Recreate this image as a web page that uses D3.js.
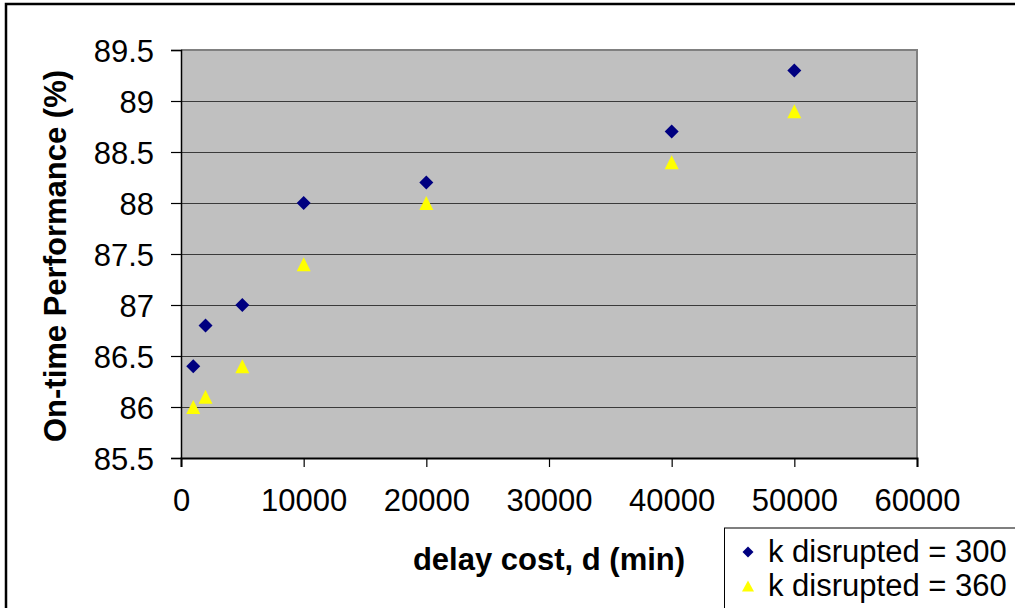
<!DOCTYPE html>
<html>
<head>
<meta charset="utf-8">
<script src="https://cdn.jsdelivr.net/npm/d3@7"></script>
<style>
  html, body { margin: 0; padding: 0; background: #fff; }
  svg { display: block; }
  text { font-family: "Liberation Sans", Arial, sans-serif; fill: #000; }
</style>
</head>
<body>
<svg id="chart" width="1015" height="608"></svg>
<script>
// Delay cost (min) tested for each run
const delayCost = [1000, 2000, 5000, 10000, 20000, 40000, 50000];
// On-time performance (%) for the two disruption levels
const otp300 = [86.4, 86.8, 87.0, 88.0, 88.2, 88.7, 89.3];
const otp360 = [86.0, 86.1, 86.4, 87.4, 88.0, 88.4, 88.9];
const seriesNames = ["k disrupted = 300", "k disrupted = 360"];
const xTicks = [0, 10000, 20000, 30000, 40000, 50000, 60000];
const yTicks = [85.5, 86, 86.5, 87, 87.5, 88, 88.5, 89, 89.5];
const xTitle = "delay cost, d (min)";
const yTitle = "On-time Performance (%)";

const svg = d3.select("#chart");
const plot = { left: 181, right: 917, top: 50, bottom: 458 };
const fontSize = 31;

const x = d3.scaleLinear().domain([0, 60000]).range([plot.left, plot.right]);
const y = d3.scaleLinear().domain([85.5, 89.5]).range([plot.bottom, plot.top]);

// outer frame (runs off the right/bottom edge)
svg.append("rect")
  .attr("x", 6).attr("y", 4).attr("width", 1040).attr("height", 640)
  .attr("fill", "#fff").attr("stroke", "#000").attr("stroke-width", 2.5);

// plot background
svg.append("rect")
  .attr("x", plot.left).attr("y", plot.top)
  .attr("width", plot.right - plot.left).attr("height", plot.bottom - plot.top)
  .attr("fill", "#c0c0c0");

// horizontal gridlines
svg.append("g").selectAll("line")
  .data(yTicks.slice(1))
  .join("line")
  .attr("x1", plot.left).attr("x2", plot.right)
  .attr("y1", d => Math.round(y(d)) + 0.5).attr("y2", d => Math.round(y(d)) + 0.5)
  .attr("stroke", "#3a3a3a").attr("stroke-width", 1.2);

// top and right plot border
svg.append("path")
  .attr("d", `M${plot.left},${plot.top}H${plot.right}V${plot.bottom}`)
  .attr("fill", "none").attr("stroke", "#808080").attr("stroke-width", 2);

// y axis
const yAxis = d3.axisLeft(y).tickValues(yTicks).tickSize(10).tickPadding(17)
  .tickFormat(d3.format(""));
const gy = svg.append("g").attr("transform", `translate(${plot.left},0)`).call(yAxis);
gy.select(".domain").attr("stroke", "#000").attr("stroke-width", 1.5);
gy.selectAll(".tick line").attr("stroke", "#000").attr("stroke-width", 1.2);
gy.selectAll(".tick text")
  .attr("font-size", fontSize).attr("font-family", "Liberation Sans, Arial, sans-serif")
  .attr("fill", "#000").attr("dy", "0.36em");

// x axis
const xAxis = d3.axisBottom(x).tickValues(xTicks).tickSize(9).tickPadding(22)
  .tickFormat(d3.format("d"));
const gx = svg.append("g").attr("transform", `translate(0,${plot.bottom})`).call(xAxis);
gx.select(".domain").attr("stroke", "#000").attr("stroke-width", 2);
gx.selectAll(".tick line").attr("stroke", "#000").attr("stroke-width", 1.2);
gx.selectAll(".tick text")
  .attr("font-size", fontSize).attr("font-family", "Liberation Sans, Arial, sans-serif")
  .attr("fill", "#000").attr("dy", "0.71em");

// axis titles
svg.append("text")
  .attr("x", 549).attr("y", 570)
  .attr("text-anchor", "middle")
  .attr("font-size", fontSize).attr("font-weight", "bold")
  .text(xTitle);

svg.append("text")
  .attr("transform", "translate(66,256) rotate(-90)")
  .attr("text-anchor", "middle")
  .attr("font-size", fontSize).attr("font-weight", "bold")
  .text(yTitle);

// marker shapes
const diamond = s => `M0,${-s}L${s},0L0,${s}L${-s},0Z`;
const triangle = (w, h) => `M0,${-h / 2}L${w / 2},${h / 2}L${-w / 2},${h / 2}Z`;

const pts300 = delayCost.map((d, i) => ({ x: d, y: otp300[i] }));
const pts360 = delayCost.map((d, i) => ({ x: d, y: otp360[i] }));

svg.append("g").selectAll("path")
  .data(pts360)
  .join("path")
  .attr("transform", d => `translate(${x(d.x)},${y(d.y)})`)
  .attr("d", triangle(14, 14))
  .attr("fill", "#ffff00");

svg.append("g").selectAll("path")
  .data(pts300)
  .join("path")
  .attr("transform", d => `translate(${x(d.x)},${y(d.y)})`)
  .attr("d", diamond(7))
  .attr("fill", "#000080");

// legend
const lg = svg.append("g");
lg.append("rect")
  .attr("x", 724.5).attr("y", 528).attr("width", 320).attr("height", 120)
  .attr("fill", "#fff").attr("stroke", "#000").attr("stroke-width", 1);
lg.append("path")
  .attr("transform", "translate(748,552)")
  .attr("d", diamond(5.5)).attr("fill", "#000080");
lg.append("path")
  .attr("transform", "translate(748,586)")
  .attr("d", triangle(12, 11)).attr("fill", "#ffff00");
lg.selectAll("text.lbl")
  .data(seriesNames)
  .join("text")
  .attr("class", "lbl")
  .attr("x", 768).attr("y", (d, i) => 562 + i * 34)
  .attr("font-size", fontSize)
  .text(d => d);
</script>
</body>
</html>
